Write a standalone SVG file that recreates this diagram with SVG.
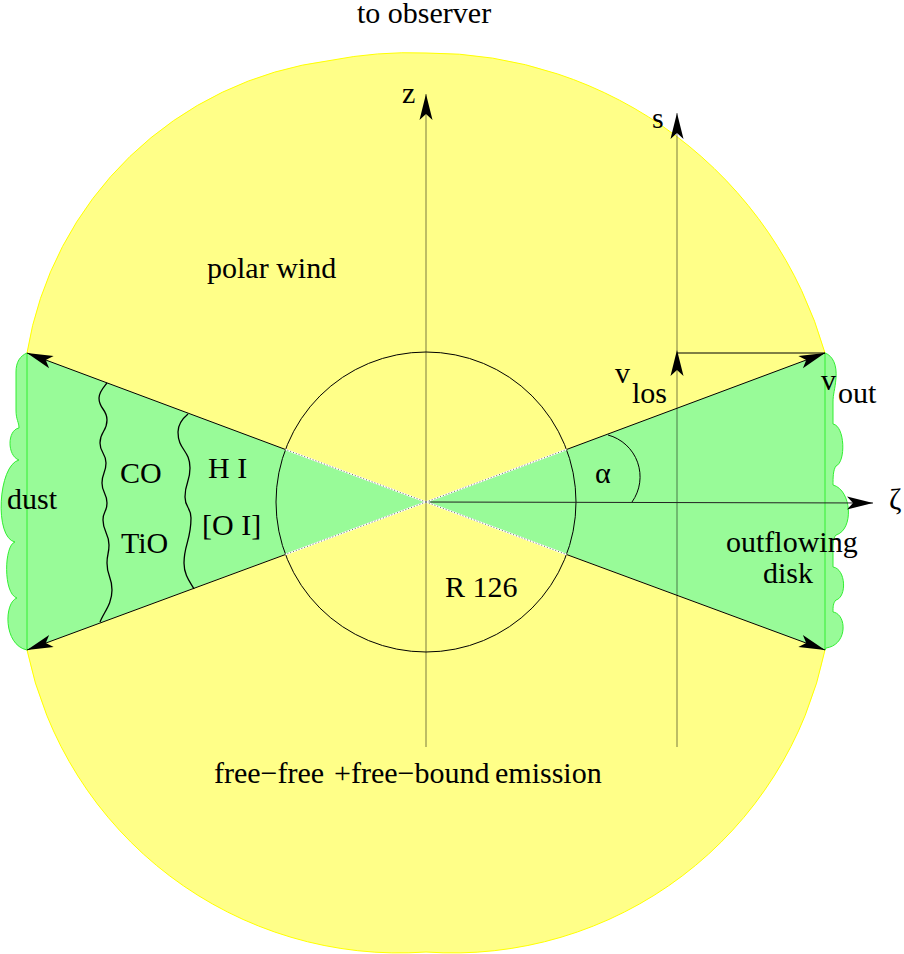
<svg xmlns="http://www.w3.org/2000/svg" width="904" height="954" viewBox="0 0 904 954">
<style>
text{font-family:"Liberation Serif","Times New Roman",serif;font-size:30px;fill:#000}
.green{fill:#98fb98}
.edge{fill:#98fb98;stroke:#33ee33;stroke-width:1}
.axis{stroke:#000;stroke-opacity:0.4;stroke-width:1.3;fill:none}
.ln{stroke:#000;stroke-width:1;fill:none}
.wave{stroke:#000;stroke-width:1.3;fill:none}
.dotw{stroke:#fff;stroke-width:1.6}
.dotk{stroke:#555;stroke-width:0.9;stroke-dasharray:1 2}
</style>
<defs>
<marker id="ah" markerUnits="userSpaceOnUse" markerWidth="30" markerHeight="16" refX="0" refY="0" viewBox="-27 -8 28 16" orient="auto" overflow="visible">
<path d="M0,0 L-26,-6.5 L-20,0 L-26,6.5 Z" fill="#000"/>
</marker>
</defs>
<g id="envelope">
<path d="M27,353 A352,352 0 0 1 330,60.5 A413,413 0 0 1 426,53 A413,413 0 0 1 825,353 L825,650 A380,380 0 0 1 426,952 A380,380 0 0 1 27,650 Z" fill="#ffff88" stroke="#ffff00" stroke-width="1"/>
</g>
<g id="disk">
<path class="green" d="M426,502 L27,353 L27,650 Z"/>
<path class="green" d="M426,502 L825,353 L825,650 Z"/>
<path class="edge" d="M27,353 C20,356 16,362 16,372 L16,410 C16,420 19,422 19,428 C7,430 7,456 19,460 C-2,465 -6,538 15,542 C4,545 3,594 17,598 C4,602 3,645 27,650 Z"/>
<path class="edge" d="M825,353 C833,356 837,365 836,378 C835,390 833,394 833,402 L833,424 C845,426 846,462 836,466 C833,470 833,478 833,485 C852,490 854,530 836,535 C833,538 833,545 833,550 L833,567 C846,569 847,597 836,600 C833,603 833,607 833,612 C847,614 848,645 826,648 L825,650 Z"/>
</g>
<g id="star">
<circle cx="426" cy="502" r="150" fill="none" stroke="#000" stroke-width="1"/>
</g>
<g id="zones">
<path class="wave" d="M107,383 C103,388 99,392 99,398 C99,409 107,409 107,420 C107,432 100,431 100,443 C100,453 106,453 106,463 C106,473 102,473 102,483 C102,493 107,493 107,503 C107,512 103,511 103,520 C103,532 109,533 109,545 C109,554 107,554 107,563 C107,577 112,576 112,590 C112,604 104,612 100,622"/>
<path class="wave" d="M188,414 C182,419 178,425 178,432 C178,450 190,450 190,468 C190,483 185,482 185,497 C185,508 191,507 191,518 C191,540 184,545 184,563 C184,575 190,582 194,589"/>
</g>
<g id="connectors">
<line class="axis" x1="426" y1="747" x2="426" y2="94" marker-end="url(#ah)"/>
<line class="axis" x1="677" y1="747" x2="677" y2="113" marker-end="url(#ah)"/>
<line x1="677" y1="420" x2="677" y2="350" stroke="none" marker-end="url(#ah)"/>
<line class="ln" x1="677" y1="353" x2="825" y2="353"/>
<line x1="426" y1="502" x2="873" y2="503" stroke="#222" stroke-width="1" marker-end="url(#ah)"/>
<line class="ln" x1="285.5" y1="449.5" x2="27" y2="353" marker-end="url(#ah)"/>
<line class="ln" x1="285.5" y1="554.5" x2="27" y2="650" marker-end="url(#ah)"/>
<line class="ln" x1="566.5" y1="449.5" x2="825" y2="353" marker-end="url(#ah)"/>
<line class="ln" x1="566.5" y1="554.5" x2="825" y2="650" marker-end="url(#ah)"/>
<line class="dotw" x1="426" y1="502" x2="285.5" y2="449.5"/>
<line class="dotw" x1="426" y1="502" x2="285.5" y2="554.5"/>
<line class="dotw" x1="426" y1="502" x2="566.5" y2="449.5"/>
<line class="dotw" x1="426" y1="502" x2="566.5" y2="554.5"/>
<line class="dotk" x1="426" y1="502" x2="285.5" y2="449.5"/>
<line class="dotk" x1="426" y1="502" x2="285.5" y2="554.5"/>
<line class="dotk" x1="426" y1="502" x2="566.5" y2="449.5"/>
<line class="dotk" x1="426" y1="502" x2="566.5" y2="554.5"/>
<path class="ln" d="M608,435 A43.3,43.3 0 0 1 632,502"/>
</g>
<g id="labels">
<text x="357" y="23">to observer</text>
<text x="402" y="103">z</text>
<text x="652" y="128">s</text>
<text x="207" y="278">polar wind</text>
<text x="7" y="509">dust</text>
<text x="120" y="483">CO</text>
<text x="121" y="553">TiO</text>
<text x="208" y="478">H I</text>
<text x="202" y="535">[O I]</text>
<text x="595" y="483">α</text>
<text x="615" y="383">v</text>
<text x="632" y="403">los</text>
<text x="821" y="390">v</text>
<text x="838" y="403">out</text>
<text x="889" y="509">ζ</text>
<text x="726" y="552">outflowing</text>
<text x="763" y="583">disk</text>
<text x="445" y="597">R 126</text>
<text x="214" y="783">free−free <tspan x="334">+</tspan><tspan x="351">free−bound </tspan><tspan x="495">emission</tspan></text>
</g>
</svg>
